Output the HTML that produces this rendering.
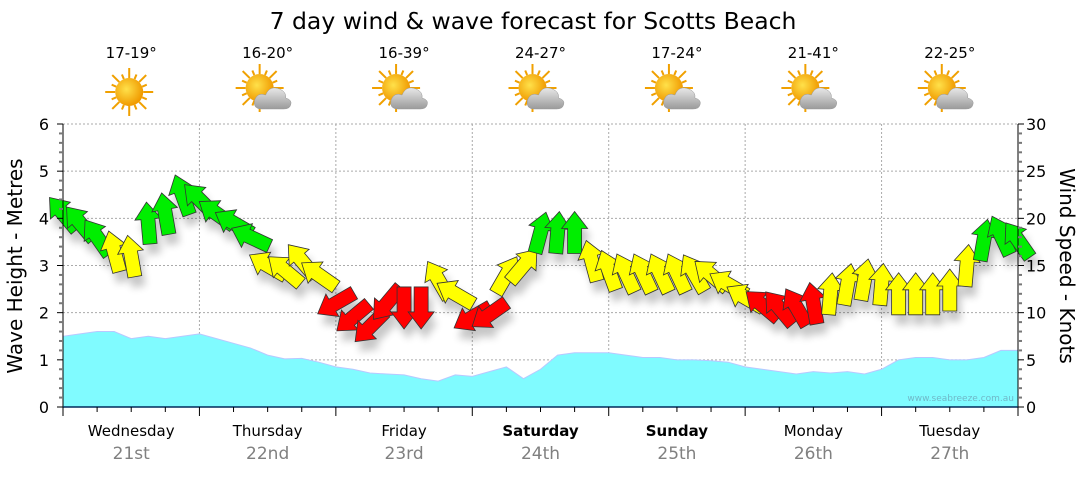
<!DOCTYPE html>
<html><head><meta charset="utf-8">
<style>
body{margin:0;background:#fff;width:1080px;height:475px;overflow:hidden;font-family:"Liberation Sans",sans-serif;}
svg text{font-family:"DejaVu Sans","Liberation Sans",sans-serif;}
</style></head>
<body>
<svg id="chart" width="1080" height="475" viewBox="0 0 1080 475" xmlns="http://www.w3.org/2000/svg">
<defs>
<filter id="sh" x="-50%" y="-50%" width="200%" height="200%"><feGaussianBlur stdDeviation="4"/></filter>
<radialGradient id="sunG" cx="0.4" cy="0.4" r="0.6"><stop offset="0" stop-color="#ffe14a"/><stop offset="1" stop-color="#f09a00"/></radialGradient>
<linearGradient id="cloudG" x1="0" y1="0" x2="0" y2="1"><stop offset="0" stop-color="#e8e8e8"/><stop offset="1" stop-color="#9a9a9a"/></linearGradient>
</defs>
<text x="533" y="29" font-size="23.5" text-anchor="middle" fill="#000">7 day wind &amp; wave forecast for Scotts Beach</text>
<g id="grid"></g>
<g id="wave"></g>
<g id="shadows" filter="url(#sh)" opacity="0.22"></g>
<g id="wind"></g>
<g id="axes"></g>
<g id="icons"></g>
<text transform="translate(22,266) rotate(-90)" font-size="20" text-anchor="middle">Wave Height - Metres</text>
<text transform="translate(1060,266) rotate(90)" font-size="20" text-anchor="middle">Wind Speed - Knots</text>
<text x="1014" y="401" font-size="9" text-anchor="end" fill="#6fb8c8">www.seabreeze.com.au</text>
</svg>
<script>
const days = ["Wednesday","Thursday","Friday","Saturday","Sunday","Monday","Tuesday"];
const dates = ["21st","22nd","23rd","24th","25th","26th","27th"];
const boldDays = [false,false,false,true,true,false,false];
const temps = ["17-19°","16-20°","16-39°","24-27°","17-24°","21-41°","22-25°"];
const icons = ["sun","partly","partly","partly","partly","partly","partly"];
const waveTicks = [0,1,2,3,4,5,6];
const windTicks = [0,5,10,15,20,25,30];
// 3-hourly series starting Wednesday 00:00
const windSpeed = [20.5,19.5,18,16.5,16,19.5,20.5,22.5,
 22,20.5,19.5,18,15,14.5,15.5,14,
 11,9.5,8.5,11,10.5,10.5,13.5,12,
 9.5,9.8,14,15,18.5,18.5,18.5,15.5,
 14.5,14.2,14.2,14.2,14.2,14.2,14,13,
 11.6,10.8,10.5,10.6,11,12,13,13.5,
 13,12,12,12,12.4,15,17.7,18.2,17.7];
const windDir = [-40,-40,-35,-15,-10,-5,-10,-20,
 -45,-55,-60,-65,-60,-50,-40,-55,
 -120,-130,-135,-140,180,180,-30,-60,
 -120,-125,30,40,15,5,0,-15,
 -20,-25,-25,-25,-25,-30,-50,-60,
 -60,-50,-40,-30,-10,5,10,10,
 5,0,0,0,0,5,10,-25,-35];
const waveHeight = [1.5,1.55,1.6,1.6,1.45,1.5,1.45,1.5,
 1.55,1.45,1.35,1.25,1.1,1.02,1.03,0.95,
 0.85,0.8,0.72,0.7,0.68,0.6,0.55,0.68,
 0.65,0.75,0.85,0.6,0.8,1.1,1.15,1.15,
 1.15,1.1,1.05,1.05,1.0,1.0,0.98,0.95,
 0.85,0.8,0.75,0.7,0.75,0.72,0.75,0.7,
 0.8,1.0,1.05,1.05,1.0,1.0,1.05,1.2,1.2];

const NS="http://www.w3.org/2000/svg";
const X0=63,X1=1018,Y0=407,Y1=124;
const dayW=(X1-X0)/7;
const xHour=h=>X0+h*dayW/24;
const yWave=v=>Y0-v*(Y0-Y1)/6;
const yWind=v=>Y0-v*(Y0-Y1)/30;
function mk(tag,attrs,parent){const e=document.createElementNS(NS,tag);for(const k in attrs)e.setAttribute(k,attrs[k]);parent.appendChild(e);return e;}
const grid=document.getElementById('grid'),axes=document.getElementById('axes');
for(let i=1;i<=6;i++){const y=yWave(waveTicks[i]);
 const l=mk('line',{x1:X0,x2:X1,y1:y,y2:y,stroke:'#aaa','stroke-dasharray':'2,2','stroke-width':1},grid);
 
 }
for(let d=1;d<7;d++){const x=X0+d*dayW;
 const l=mk('line',{x1:x,x2:x,y1:Y1,y2:Y0,stroke:'#aaa','stroke-dasharray':'2,2','stroke-width':1},grid);
 
 }
let d=`M${xHour(0)},${Y0}`;
waveHeight.forEach((v,i)=>{d+=` L${xHour(i*3)},${yWave(v)}`;});
d+=` L${xHour((waveHeight.length-1)*3)},${Y0} Z`;
const wa=mk('path',{d:d,fill:'#80fbff',stroke:'#b8c8ff','stroke-width':1},document.getElementById('wave'));


const L=42,HL=17,HW=13,SW=7;
const arrowPts=`0,${-L/2} ${HW},${-L/2+HL} ${SW},${-L/2+HL} ${SW},${L/2} ${-SW},${L/2} ${-SW},${-L/2+HL} ${-HW},${-L/2+HL}`;
const colorFor=s=>s>=17?'#00ee00':(s>=11.5?'#ffff00':'#ff0000');
const wind=document.getElementById('wind'),sh=document.getElementById('shadows');
windSpeed.forEach((s,i)=>{const x=xHour(i*3),y=yWind(s);
 const p2=mk('polygon',{points:arrowPts,transform:`translate(${x+4},${y+10}) rotate(${windDir[i]})`,fill:'#000'},sh);
 
 
 const p=mk('polygon',{points:arrowPts,transform:`translate(${x},${y}) rotate(${windDir[i]})`,fill:colorFor(s),stroke:'#333','stroke-width':0.8},wind);
 
 });
mk('line',{x1:X0,x2:X0,y1:Y1,y2:Y0,stroke:'#000'},axes);
mk('line',{x1:X1,x2:X1,y1:Y1,y2:Y0,stroke:'#000'},axes);
mk('line',{x1:X0,x2:X1,y1:Y0,y2:Y0,stroke:'#002b5c','stroke-width':1.5},axes);
for(let v=0;v<=30;v++){const y=yWind(v);const maj=v%5==0;
 mk('line',{x1:X0-(maj?6:4),x2:X0,y1:y,y2:y,stroke:maj?'#000':'#777','stroke-width':maj?1:2},axes);
 mk('line',{x1:X1,x2:X1+(maj?6:4),y1:y,y2:y,stroke:maj?'#000':'#777','stroke-width':maj?1:2},axes);}
waveTicks.forEach(v=>{const t=mk('text',{x:49,y:yWave(v)+6,'font-size':16,'text-anchor':'end'},axes);t.textContent=v;
 
 });
windTicks.forEach(v=>{const t=mk('text',{x:1026,y:yWind(v)+6,'font-size':16},axes);t.textContent=v;
 
 });
for(let h=0;h<=168;h+=6){const x=xHour(h);const maj=h%24==0;
 mk('line',{x1:x,x2:x,y1:Y0,y2:Y0+(maj?9:5),stroke:'#000'},axes);}
const icg=document.getElementById('icons');
days.forEach((dn,i)=>{const cx=X0+(i+0.5)*dayW;
 const t=mk('text',{x:cx,y:436,'font-size':15,'text-anchor':'middle','font-weight':boldDays[i]?'bold':'normal'},axes);t.textContent=dn;
 
 
 const t2=mk('text',{x:cx,y:459,'font-size':17,'text-anchor':'middle',fill:'#808080'},axes);t2.textContent=dates[i];
 
 
 const t3=mk('text',{x:cx,y:58,'font-size':15,'text-anchor':'middle'},icg);t3.textContent=temps[i];
 
 
 const g=mk('g',{transform:`translate(${cx-2},${92})`},icg);
 
 
 const sx=icons[i]=='sun'?0:-6, sy=icons[i]=='sun'?0:-4;
 for(let k=0;k<16;k++){const a=k*Math.PI/8;
  mk('line',{x1:sx+Math.cos(a)*14,y1:sy+Math.sin(a)*14,x2:sx+Math.cos(a)*(k%2?19:24),y2:sy+Math.sin(a)*(k%2?19:24),stroke:'#f0a000','stroke-width':2},g);}
 mk('circle',{cx:sx,cy:sy,r:14,fill:'url(#sunG)'},g);
 if(icons[i]!='sun'){
  mk('path',{d:'M-4,17 Q-13,17 -11,8 Q-8,0 0,3 Q4,-7 14,-3 Q21,0 20,6 Q27,8 25,13 Q24,17 18,17 Z',fill:'url(#cloudG)',stroke:'#999','stroke-width':0.5},g);}
});
</script>
</body></html>
